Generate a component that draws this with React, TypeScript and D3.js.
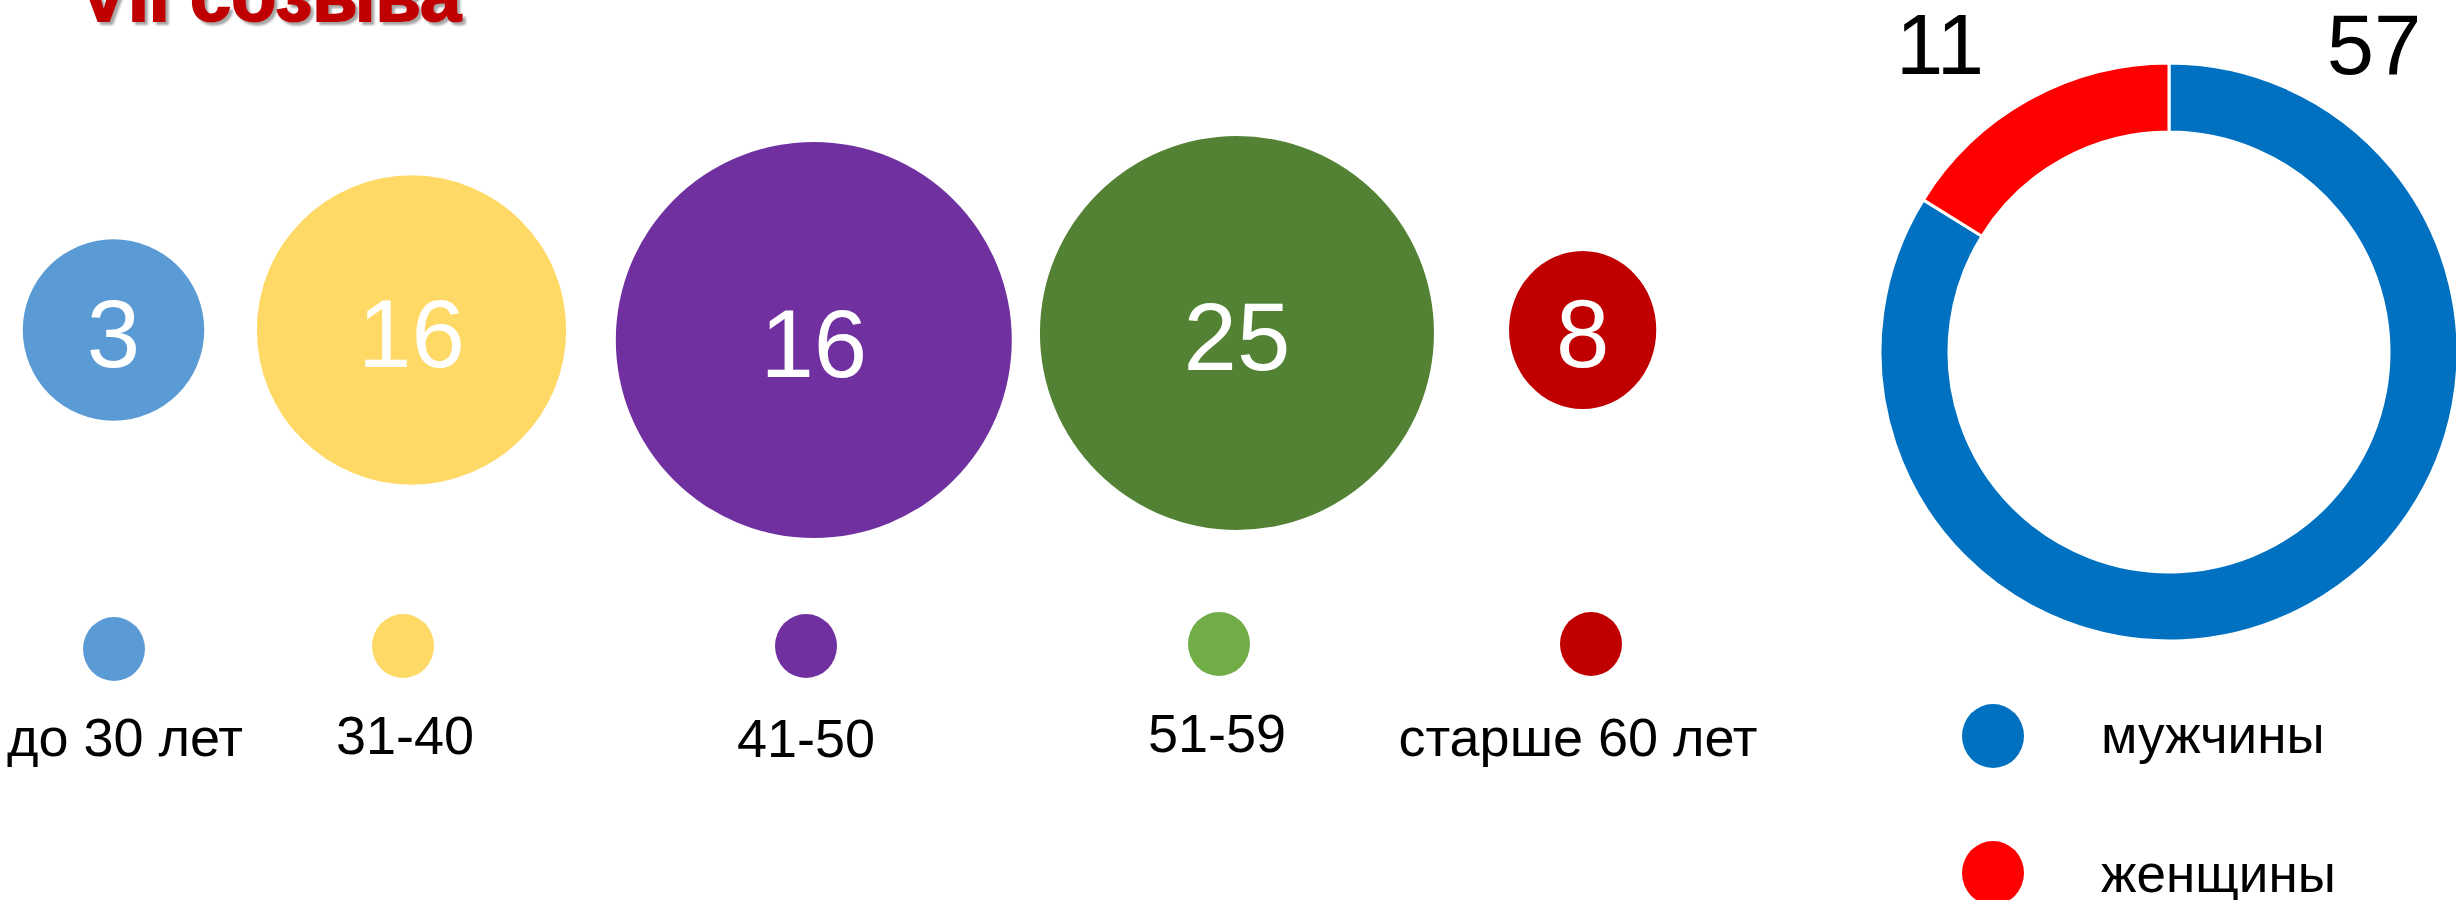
import React from "react";
import * as d3 from "d3";

// ---- data ----
const ageCategories = ["до 30 лет", "31-40", "41-50", "51-59", "старше 60 лет"];
const ageCounts = [3, 16, 16, 25, 8];
// bubble chart x / y values and relative bubble sizes
const bubbleX = [1, 2, 3.35, 4.77, 5.93];
const bubbleY = [5, 5, 4.9, 4.97, 5];
const bubbleSize = [21, 61, 100, 99, 15];

const genderLabels = ["мужчины", "женщины"];
const genderCounts = [57, 11];

const titleText = "VII созыва";

// ---- styles ----
const bubbleColors = ["#5B9BD5", "#FFD966", "#7030A0", "#548235", "#C00000"];
const legendColors = ["#5B9BD5", "#FFD966", "#7030A0", "#70AD47", "#C00000"];
const genderColors = ["#0070C0", "#FF0000"];
const FONT = "'Liberation Sans', Arial, sans-serif";

export default function App() {
  const W = 2456;
  const H = 900;

  const xScale = d3.scaleLinear().domain([1, 6]).range([113.5, 1603.5]);
  const yScale = d3.scaleLinear().domain([0, 10]).range([830, -170]);
  const rScale = d3.scaleSqrt().domain([0, 100]).range([0, 198]);

  // legend layout
  const legendDotX = [114, 403, 806, 1219, 1591];
  const legendDotY = [649, 646, 646, 644, 644];
  const legendLabelX = [125, 405, 806, 1217, 1578];
  const legendLabelY = [756, 754, 757, 752, 756];

  // donut
  const cx = 2169;
  const cy = 352;
  const pie = d3
    .pie<number>()
    .sort(null)
    .value((d) => d)
    .startAngle(0)
    .endAngle(2 * Math.PI);
  const arcs = pie(genderCounts);
  const arcGen = d3.arc<d3.PieArcDatum<number>>().innerRadius(220).outerRadius(289);
  const donutLabelDx = [205, -229];

  return (
    <svg
      width={W}
      height={H}
      style={{ position: "absolute", left: 0, top: 0, background: "#fff" }}
      fontFamily={FONT}
    >
      <defs>
        <filter id="sh" x="-10%" y="-50%" width="120%" height="200%">
          <feDropShadow dx="3" dy="3" stdDeviation="1.2" floodColor="#7f7f7f" floodOpacity="0.7" />
        </filter>
      </defs>
      <rect x={0} y={0} width={W} height={H} fill="#fff" />

      {/* title (cut off at top) */}
      <text
        x={79}
        y={21}
        fontSize={74}
        fontWeight="bold"
        fill="#C00000"
        stroke="#C00000"
        strokeWidth={2}
        filter="url(#sh)"
      >
        {titleText}
      </text>

      {/* bubbles */}
      {ageCounts.map((v, i) => {
        const x = xScale(bubbleX[i]);
        const y = yScale(bubbleY[i]);
        const r = rScale(bubbleSize[i]);
        return (
          <g key={"b" + i}>
            <ellipse cx={x} cy={y} rx={i === 4 ? r * 0.96 : r} ry={i === 4 ? r * 1.03 : r} fill={bubbleColors[i]} />
            <text x={x} y={y + 37} textAnchor="middle" fontSize={96} fill="#fff">
              {v}
            </text>
          </g>
        );
      })}

      {/* age legend */}
      {ageCategories.map((c, i) => (
        <g key={"l" + i}>
          <ellipse cx={legendDotX[i]} cy={legendDotY[i]} rx={31} ry={32} fill={legendColors[i]} />
          <text x={legendLabelX[i]} y={legendLabelY[i]} textAnchor="middle" fontSize={54} fill="#000">
            {c}
          </text>
        </g>
      ))}

      {/* donut */}
      <g transform={`translate(${cx},${cy})`}>
        {arcs.map((a, i) => (
          <path key={"a" + i} d={arcGen(a) || ""} fill={genderColors[i]} stroke="#fff" strokeWidth={3} />
        ))}
      </g>
      {genderCounts.map((v, i) => (
        <text key={"g" + i} x={cx + donutLabelDx[i]} y={74} textAnchor="middle" fontSize={85} fill="#000">
          {v}
        </text>
      ))}

      {/* gender legend */}
      {genderLabels.map((g, i) => (
        <g key={"gl" + i}>
          <ellipse cx={1993} cy={736 + i * 137} rx={31} ry={32} fill={genderColors[i]} />
          <text x={2101} y={753 + i * 139} fontSize={53} fill="#000">
            {g}
          </text>
        </g>
      ))}
    </svg>
  );
}
